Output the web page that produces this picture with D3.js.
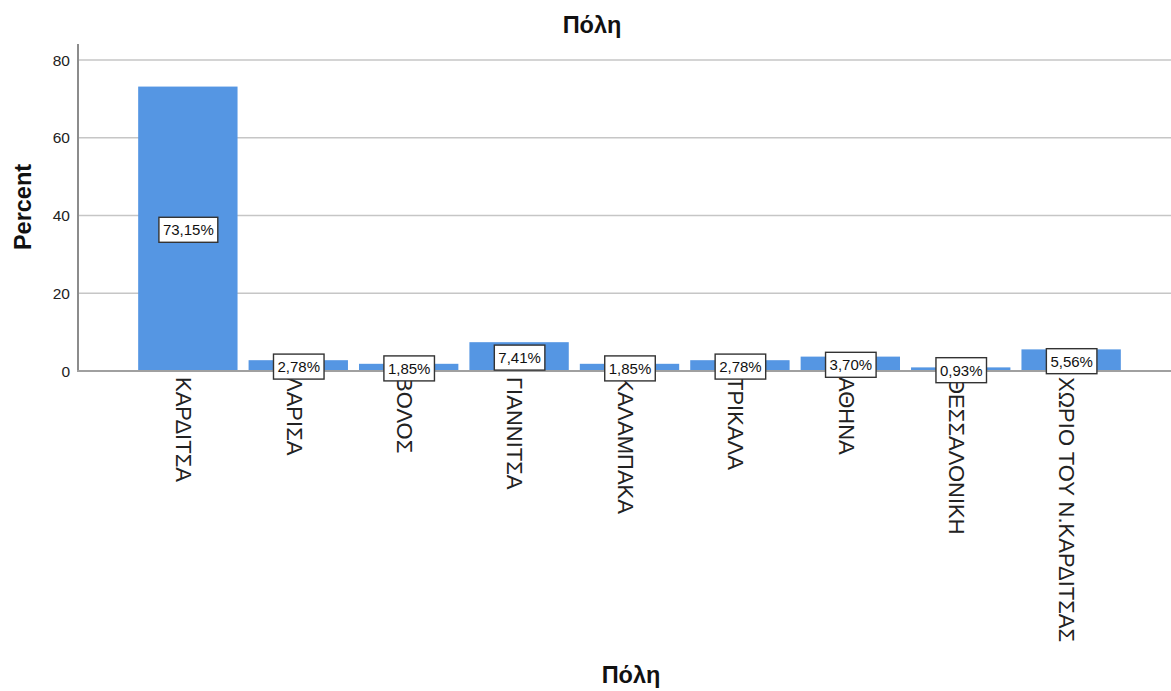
<!DOCTYPE html>
<html><head><meta charset="utf-8">
<script src="https://cdn.jsdelivr.net/npm/d3@7"></script>
<style>body{margin:0;background:#fff}svg{display:block;font-family:"Liberation Sans",Arial,sans-serif}</style>
</head><body>
<svg id="c" width="1171" height="691"></svg>
<script>
const categories = ["ΚΑΡΔΙΤΣΑ","ΛΑΡΙΣΑ","ΒΟΛΟΣ","ΓΙΑΝΝΙΤΣΑ","ΚΑΛΑΜΠΑΚΑ","ΤΡΙΚΑΛΑ","ΑΘΗΝΑ","ΘΕΣΣΑΛΟΝΙΚΗ","ΧΩΡΙΟ ΤΟΥ Ν.ΚΑΡΔΙΤΣΑΣ"];
const values = [73.15, 2.78, 1.85, 7.41, 1.85, 2.78, 3.70, 0.93, 5.56];
const valueLabels = ["73,15%","2,78%","1,85%","7,41%","1,85%","2,78%","3,70%","0,93%","5,56%"];
const yTicks = [0, 20, 40, 60, 80];

const svg = d3.select("#c");
const x = d3.scaleBand().domain(categories).range([78, 1181]).paddingInner(0.1).paddingOuter(0.545);
const y = d3.scaleLinear().domain([0, 84.1]).range([371, 44]);

// gridlines
svg.append("g").selectAll("line").data(yTicks.filter(d => d > 0)).join("line")
  .attr("x1", 78).attr("x2", 1171).attr("y1", d => y(d)).attr("y2", d => y(d))
  .attr("stroke", "#c6c6c6").attr("stroke-width", 1.5);

// bars
svg.append("g").selectAll("rect").data(values).join("rect")
  .attr("x", (d, i) => x(categories[i])).attr("width", x.bandwidth())
  .attr("y", d => y(d)).attr("height", d => y(0) - y(d))
  .attr("fill", "#5596e3");

// axes lines
svg.append("line").attr("x1", 78).attr("x2", 78).attr("y1", 44).attr("y2", 372)
  .attr("stroke", "#8c8c8c").attr("stroke-width", 2);
svg.append("line").attr("x1", 77).attr("x2", 1171).attr("y1", 371).attr("y2", 371)
  .attr("stroke", "#a0a0a0").attr("stroke-width", 2);

// y tick labels
svg.append("g").selectAll("text").data(yTicks).join("text")
  .attr("x", 70).attr("y", d => y(d)).attr("dy", "0.36em")
  .attr("text-anchor", "end").attr("font-size", 15.5).attr("fill", "#222")
  .text(d => d);

// category labels (rotated)
svg.append("g").selectAll("text").data(categories).join("text")
  .attr("transform", d => `translate(${x(d) + x.bandwidth()/2 - 4},377) rotate(90)`)
  .attr("dy", "0.35em").attr("font-size", 22).attr("fill", "#222")
  .text(d => d);

// value label boxes
const lg = svg.append("g").selectAll("g").data(values).join("g")
  .attr("transform", (d, i) => `translate(${x(categories[i]) + x.bandwidth()/2 + 0.5},${y(d/2) + 1})`);
const rects = lg.append("rect").attr("y", -12.5).attr("height", 25)
  .attr("fill", "#fff").attr("stroke", "#333").attr("stroke-width", 1.4);
const txts = lg.append("text").attr("text-anchor", "middle").attr("dy", "0.36em")
  .attr("font-size", 15).attr("fill", "#111").text((d, i) => valueLabels[i]);
txts.each(function(d, i) {
  const w = this.getComputedTextLength() + 8;
  d3.select(rects.nodes()[i]).attr("x", -w/2).attr("width", w);
});

// titles
svg.append("text").attr("x", 592).attr("y", 33).attr("text-anchor", "middle")
  .attr("font-size", 23.5).attr("font-weight", "bold").attr("fill", "#111").text("Πόλη");
svg.append("text").attr("x", 631).attr("y", 683).attr("text-anchor", "middle")
  .attr("font-size", 23.5).attr("font-weight", "bold").attr("fill", "#111").text("Πόλη");
svg.append("text").attr("transform", "translate(31,207) rotate(-90)").attr("text-anchor", "middle")
  .attr("font-size", 23.5).attr("font-weight", "bold").attr("fill", "#111").text("Percent");
</script>
</body></html>
